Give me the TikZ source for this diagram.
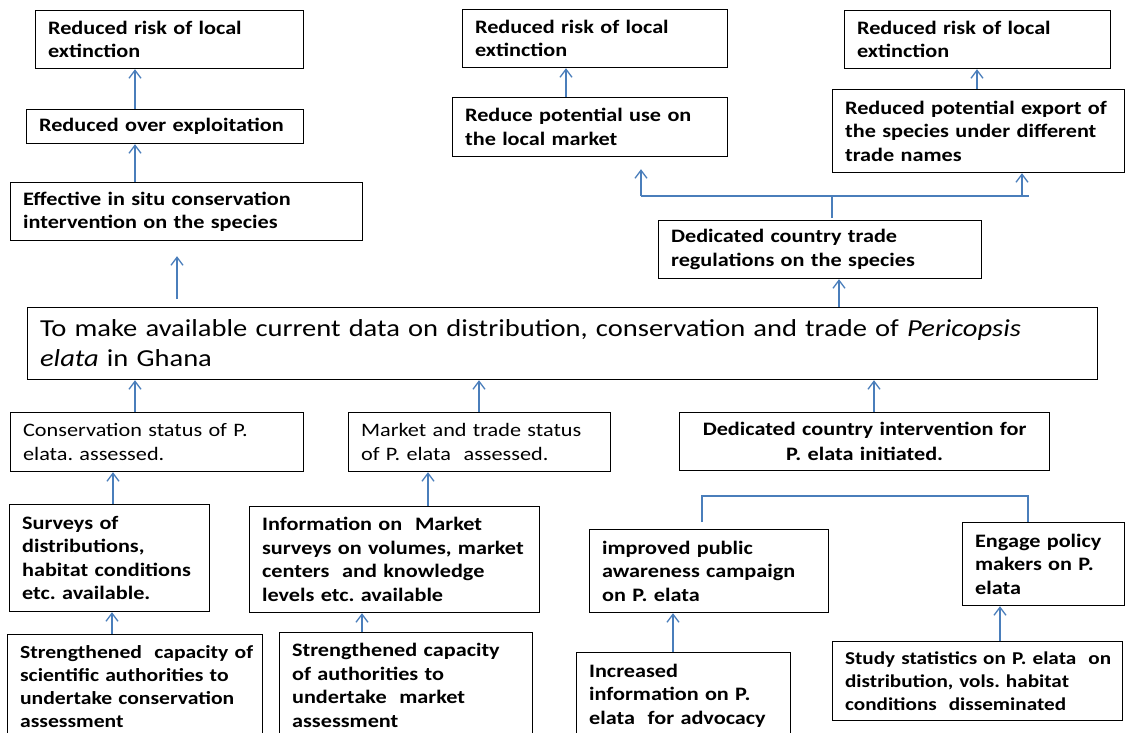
\documentclass[tikz,border=0pt]{standalone}
\usepackage{fontspec}
\setmainfont[FakeStretch=1.17]{Carlito}
\usetikzlibrary{arrows.meta}
\definecolor{linkblue}{RGB}{74,126,187}
\newcommand\Lx[1]{\mbox{#1}}
\frenchspacing
\tikzset{
  bx/.style={draw=black, line width=1.2pt, anchor=north west, inner xsep=12.5pt, inner ysep=0pt,
    align=left, font=\bfseries\fontsize{19}{23.5}\selectfont},
  rbx/.style={bx, font=\fontsize{19}{24}\selectfont},
  arr/.style={draw=linkblue, line width=1.3pt, -{Straight Barb[length=8pt,width=12pt]}},
  lnk/.style={draw=linkblue, line width=1.3pt},
}
\begin{document}
\begin{tikzpicture}[x=1pt,y=-1pt]
\fill[white] (0,0) rectangle (1125,733);
\useasboundingbox (0,0) rectangle (1125,733);
% top left column
\node[bx, text width=243pt, minimum height=58pt] (A1) at (35,10) {\Lx{Reduced risk of local}\\\Lx{extinction}};
\node[bx, text width=252pt, minimum height=34pt] (A2) at (26,109) {\Lx{Reduced over exploitation}};
\node[bx, text width=327pt, minimum height=58pt] (A3) at (10,182) {\Lx{Effective in situ conservation}\\\Lx{intervention on the species}};
% top middle / right
\node[bx, text width=240pt, minimum height=58pt] (B1) at (462,9) {\Lx{Reduced risk of local}\\\Lx{extinction}};
\node[bx, text width=250pt, minimum height=59pt] (B2) at (452,97) {\Lx{Reduce potential use on}\\\Lx{the local market}};
\node[bx, text width=241pt, minimum height=58pt] (C1) at (844,10) {\Lx{Reduced risk of local}\\\Lx{extinction}};
\node[bx, text width=267pt, minimum height=83pt] (C2) at (832,89) {\Lx{Reduced potential export of}\\\Lx{the species under different}\\\Lx{trade names}};
\node[bx, text width=298pt, minimum height=58pt] (D) at (658,220) {\Lx{Dedicated country trade}\\\Lx{regulations on the species}};
% main
\node[bx, font=\fontsize{24.4}{30}\selectfont, text width=1045pt, minimum height=72pt] (main) at (27,307)
  {\Lx{To make available current data on distribution, conservation and trade of \textit{Pericopsis}}\\\Lx{\textit{elata} in Ghana}};
% second row
\node[rbx, text width=268pt, minimum height=59pt] (cons) at (10,412) {\Lx{Conservation status of P.}\\\Lx{elata. assessed.}};
\node[rbx, text width=237pt, minimum height=59pt] (market) at (348,412) {\Lx{Market and trade status}\\\Lx{of P. elata\ \ assessed.}};
\node[bx, align=center, font=\bfseries\fontsize{19}{25}\selectfont, text width=345pt, minimum height=58pt] (dedic) at (679,412) {\Lx{Dedicated country intervention for}\\\Lx{P. elata initiated.}};
% third row
\node[bx, text width=175pt, minimum height=107pt] (surveys) at (9,504) {\Lx{Surveys of}\\\Lx{distributions,}\\\Lx{habitat conditions}\\\Lx{etc. available.}};
\node[bx, text width=265pt, minimum height=106pt] (info) at (249,506) {\Lx{Information on\ \ Market}\\\Lx{surveys on volumes, market}\\\Lx{centers\ \ and knowledge}\\\Lx{levels etc. available}};
\node[bx, text width=214pt, minimum height=83pt] (improved) at (589,529) {\Lx{improved public}\\\Lx{awareness campaign}\\\Lx{on P. elata}};
\node[bx, text width=137pt, minimum height=83pt] (engage) at (962,522) {\Lx{Engage policy}\\\Lx{makers on P.}\\\Lx{elata}};
% bottom row
\node[bx, font=\bfseries\fontsize{18.5}{23}\selectfont, text width=230pt, minimum height=104pt] (str1) at (7,634) {\Lx{Strengthened\ \ capacity of}\\\Lx{scientific authorities to}\\\Lx{undertake conservation}\\\Lx{assessment}};
\node[bx, text width=228pt, minimum height=106pt] (str2) at (279,632) {\Lx{Strengthened capacity}\\\Lx{of authorities to}\\\Lx{undertake\ \ market}\\\Lx{assessment}};
\node[bx, text width=189pt, minimum height=86pt] (increased) at (576,652) {\Lx{Increased}\\\Lx{information on P.}\\\Lx{elata\ \ for advocacy}};
\node[bx, font=\bfseries\fontsize{18.1}{23}\selectfont, text width=265pt, minimum height=79pt] (study) at (832,641) {\Lx{Study statistics on P. elata\ \ on}\\\Lx{distribution, vols. habitat}\\\Lx{conditions\ \ disseminated}};
% helper x positions
\coordinate (x112) at (112,0);
\coordinate (x113) at (113,0);
\coordinate (x135) at (135,0);
\coordinate (x177) at (177,0);
\coordinate (x362) at (362,0);
\coordinate (x428) at (428,0);
\coordinate (x479) at (479,0);
\coordinate (x566) at (566,0);
\coordinate (x673) at (673,0);
\coordinate (x839) at (839,0);
\coordinate (x874) at (874,0);
\coordinate (x977) at (977,0);
\coordinate (x1000) at (1000,0);
% left column connectors
\draw[arr] (A2.north -| x135) -- (A1.south -| x135);
\draw[arr] (A3.north -| x135) -- (A2.south -| x135);
\draw[arr, shorten <=8pt, shorten >=15pt] (main.north -| x177) -- (A3.south -| x177);
% upward to main
\draw[arr] (cons.north -| x135) -- (main.south -| x135);
\draw[arr] (market.north -| x479) -- (main.south -| x479);
\draw[arr] (dedic.north -| x874) -- (main.south -| x874);
\draw[arr] (surveys.north -| x113) -- (cons.south -| x113);
\draw[arr] (info.north -| x428) -- (market.south -| x428);
\draw[arr] (str1.north -| x112) -- (surveys.south -| x112);
\draw[arr] (str2.north -| x362) -- (info.south -| x362);
\draw[arr] (increased.north -| x673) -- (improved.south -| x673);
\draw[arr] (study.north -| x1000) -- (engage.south -| x1000);
% bracket
\coordinate (bl) at (702,496);
\coordinate (br) at (1028,496);
\draw[lnk, shorten <=7pt] (improved.north -| bl) -- (bl) -- (br) -- (engage.north -| br);
% right top tree
\draw[arr] (main.north -| x839) -- (D.south -| x839);
\coordinate (tj) at (832,196);
\coordinate (tl) at (641,196);
\coordinate (tr) at (1029,196);
\coordinate (tr2) at (1022,196);
\draw[lnk, shorten <=2pt] (D.north -| tj) -- (tj);
\draw[lnk] (tl) -- (tr);
\draw[arr, shorten >=12pt] (tl) -- (B2.south -| tl);
\draw[arr] (tr2) -- (C2.south -| tr2);
\draw[arr] (B2.north -| x566) -- (B1.south -| x566);
\draw[arr] (C2.north -| x977) -- (C1.south -| x977);
\end{tikzpicture}
\end{document}
